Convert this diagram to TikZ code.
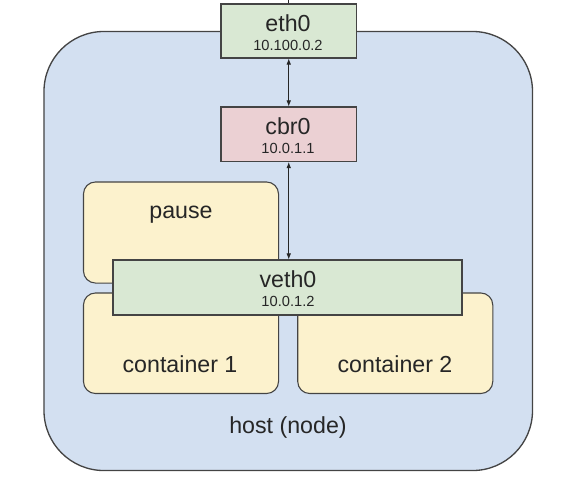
\documentclass[tikz,border=0pt]{standalone}
\usepackage{fontspec}
\setmainfont{Liberation Sans}
\usetikzlibrary{arrows.meta}
\definecolor{hostblue}{HTML}{D3E0F1}
\definecolor{ifgreen}{HTML}{D9E8D3}
\definecolor{brpink}{HTML}{EBD0D3}
\definecolor{ctyellow}{HTML}{FCF2CD}
\definecolor{edge}{HTML}{444444}
\begin{document}
\begin{tikzpicture}[x=0.75pt,y=-0.75pt,
  hostbox/.style={draw=edge,line width=1pt,fill=hostblue,rounded corners=45pt,inner sep=0pt,minimum width=366.4pt,minimum height=329.3pt},
  ctbox/.style={draw=edge,line width=0.8pt,fill=ctyellow,rounded corners=9pt,inner sep=0pt,minimum width=146.3pt},
  ifbox/.style={draw=edge,line width=0.8pt,fill=ifgreen,inner sep=0pt,minimum height=40.5pt},
  brbox/.style={draw=edge,line width=0.8pt,fill=brpink,inner sep=0pt,minimum height=40.9pt,minimum width=101.6pt},
  big/.style={font=\fontsize{17.4}{20}\selectfont,text=black!85},
  small/.style={font=\fontsize{11}{13}\selectfont,text=black!85},
  link/.style={draw=black!85,line width=0.7pt,{Latex[length=4.5pt,width=3.5pt]}-{Latex[length=4.5pt,width=3.5pt]}}]
\useasboundingbox (0,0) rectangle (576,487);
% host
\node[hostbox] (host) at (288.25,251) {};
\node[big] (hostlbl) at (288,427) {host (node)};
% containers
\node[ctbox,minimum height=75.8pt] (pause) at (181,232.5) {};
\node[big] (pauselbl) at (181,215) {pause};
\node[ctbox,minimum height=75.4pt] (c1) at (181,343.25) {};
\node[big] (c1lbl) at (180,364) {container 1};
\node[ctbox,minimum height=75.4pt] (c2) at (395.25,343.25) {};
\node[big] (c2lbl) at (395,364) {container 2};
% veth0
\node[ifbox,minimum width=261.75pt,minimum height=41.25pt] (veth) at (287.5,287.5) {};
\node[big] (vethname) at (288,279.5) {veth0};
\node[small] (vethip) at (288,301.5) {10.0.1.2};
% eth0
\node[ifbox,minimum width=101.6pt] (eth) at (288.75,31) {};
\node[big] (ethname) at (288,23) {eth0};
\node[small] (ethip) at (288,45.5) {10.100.0.2};
\coordinate (topend) at (288.75,0);
% cbr0
\node[brbox] (cbr) at (288.75,134.25) {};
\node[big] (cbrname) at (288,126) {cbr0};
\node[small] (cbrip) at (288,148.5) {10.0.1.1};
% links
\draw[link] (eth.south) -- (cbr.north);
\draw[link] (cbr.south) -- (veth.north -| cbr.south);
\draw[draw=black!85,line width=0.7pt] (eth.north) -- (topend);
\end{tikzpicture}
\end{document}
